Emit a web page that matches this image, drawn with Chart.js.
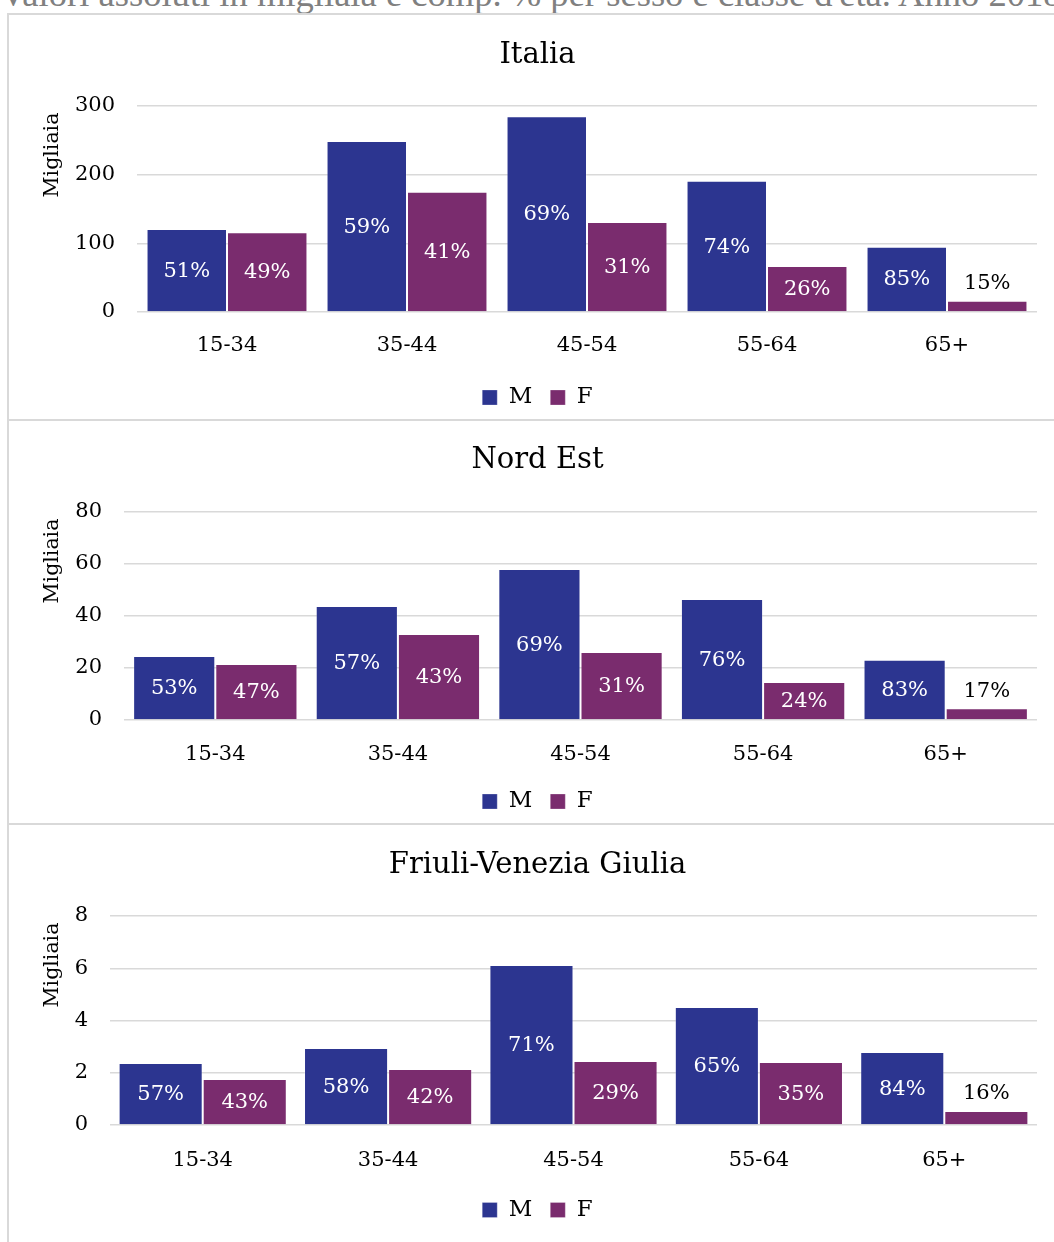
<!DOCTYPE html>
<html>
<head>
<meta charset="utf-8">
<script src="https://cdn.jsdelivr.net/npm/chart.js@4.4.1/dist/chart.umd.min.js"></script>
<style>
    html, body { margin: 0; padding: 0; background: #fff; }
    body { width: 1054px; height: 1242px; overflow: hidden; position: relative; }
    #head { position: absolute; left: 0; top: -15px; font-family: "Liberation Serif", serif; font-size: 30px; line-height: 30px; color: #808080; white-space: nowrap; }
    .frame { position: absolute; left: 7px; top: 13px; width: 1070px; height: 1260px; border-left: 2px solid #d9d9d9; border-top: 2px solid #d9d9d9; }
    .sep { position: absolute; left: 9px; width: 1045px; height: 2px; background: #d9d9d9; }
    .wrap { position: absolute; left: 9px; width: 1045px; }
</style>
</head>
<body>
<div id="head">Valori assoluti in migliaia e comp. % per sesso e classe d'età. Anno 2018</div>
<div class="frame"></div>
<div class="sep" style="top:419px"></div>
<div class="sep" style="top:823px"></div>
<div class="wrap" id="c1-wrap" style="top:15px;height:404px"><canvas id="c1"></canvas></div>
<div class="wrap" id="c2-wrap" style="top:421px;height:402px"><canvas id="c2"></canvas></div>
<div class="wrap" id="c3-wrap" style="top:825px;height:417px"><canvas id="c3"></canvas></div>
<script>
(function() {
    'use strict';

    // Data
    var ageGroups = ['15-34', '35-44', '45-54', '55-64', '65+'];
    var seriesNames = ['M', 'F'];
    var axisTitle = 'Migliaia';

    var italiaM = [121, 249, 285, 191, 95];
    var italiaF = [116, 175, 131, 67, 16.5];
    var italiaPctM = [51, 59, 69, 74, 85];
    var italiaPctF = [49, 41, 31, 26, 15];
    var italiaTicks = [0, 100, 200, 300];

    var nordEstM = [24.6, 43.8, 58.1, 46.5, 23.2];
    var nordEstF = [21.5, 33.1, 26.2, 14.6, 4.5];
    var nordEstPctM = [53, 57, 69, 76, 83];
    var nordEstPctF = [47, 43, 31, 24, 17];
    var nordEstTicks = [0, 20, 40, 60, 80];

    var fvgM = [2.37, 2.95, 6.12, 4.52, 2.79];
    var fvgF = [1.76, 2.14, 2.45, 2.41, 0.54];
    var fvgPctM = [57, 58, 71, 65, 84];
    var fvgPctF = [43, 42, 29, 35, 16];
    var fvgTicks = [0, 2, 4, 6, 8];

    var COLOR_M = '#2c3590';
    var COLOR_F = '#7a2c6e';
    var GRID = '#d9d9d9';
    var SERIF = '"DejaVu Serif", serif';

    Chart.defaults.font.family = SERIF;
    Chart.defaults.color = '#000';
    Chart.defaults.animation = false;

    // Percent labels: centred in white, or above in black when the bar is too short
    var barLabels = {
        id: 'barLabels',
        afterDatasetsDraw: function(chart, args, opts) {
            var ctx = chart.ctx;
            ctx.save();
            ctx.font = '21px ' + SERIF;
            ctx.textAlign = 'center';
            ctx.textBaseline = 'middle';
            for (var d = 0; d < chart.data.datasets.length; d++) {
                var meta = chart.getDatasetMeta(d);
                var pct = opts.pct[d];
                for (var i = 0; i < meta.data.length; i++) {
                    var bar = meta.data[i];
                    var txt = pct[i] + '%';
                    if (bar.base - bar.y < 28) {
                        ctx.fillStyle = '#000';
                        ctx.fillText(txt, bar.x, bar.y - 17);
                    } else {
                        ctx.fillStyle = '#fff';
                        ctx.fillText(txt, bar.x, (bar.y + bar.base) / 2 + 1);
                    }
                }
            }
            ctx.restore();
        }
    };

    // Rotated y axis title, placed the way the reference has it
    var yAxisTitle = {
        id: 'yAxisTitle',
        afterDraw: function(chart, args, opts) {
            var ctx = chart.ctx;
            ctx.save();
            ctx.translate(opts.x, chart.chartArea.top + opts.dy);
            ctx.rotate(-Math.PI / 2);
            ctx.font = '20.5px ' + SERIF;
            ctx.fillStyle = '#000';
            ctx.textAlign = 'center';
            ctx.textBaseline = 'middle';
            ctx.fillText(opts.text, 0, 0);
            ctx.restore();
        }
    };

    function buildPanel(canvasId, title, mVals, fVals, mPct, fPct, ticks, g) {
        var wrap = document.getElementById(canvasId + '-wrap');
        var rect = wrap.getBoundingClientRect();
        var canvas = document.getElementById(canvasId);
        canvas.width = Math.floor(rect.width);
        canvas.height = Math.floor(rect.height);
        canvas.style.display = 'block';

        return new Chart(canvas, {
            type: 'bar',
            data: {
                labels: ageGroups,
                datasets: [
                    { label: seriesNames[0], data: mVals, backgroundColor: COLOR_M, borderColor: 'rgba(255,255,255,0.25)', borderWidth: 1 },
                    { label: seriesNames[1], data: fVals, backgroundColor: COLOR_F, borderColor: 'rgba(255,255,255,0.25)', borderWidth: 1 }
                ]
            },
            options: {
                responsive: false,
                maintainAspectRatio: false,
                animation: false,
                categoryPercentage: g.cat,
                barPercentage: 1,
                layout: { padding: { left: 29, right: 17, top: 0, bottom: g.padBottom } },
                plugins: {
                    title: {
                        display: true,
                        text: title,
                        color: '#000',
                        font: { size: 29, weight: 'normal' },
                        padding: { top: g.titleTop, bottom: g.titleBottom }
                    },
                    legend: {
                        display: true,
                        position: 'bottom',
                        labels: {
                            boxWidth: 15,
                            boxHeight: 15,
                            padding: 18,
                            color: '#000',
                            font: { size: 23 }
                        }
                    },
                    tooltip: { enabled: false },
                    barLabels: { pct: [mPct, fPct] },
                    yAxisTitle: { text: axisTitle, x: 44, dy: 49 }
                },
                scales: {
                    x: {
                        grid: { display: false },
                        border: { display: false },
                        ticks: { color: '#000', font: { size: 21 }, padding: g.tickPad, maxRotation: 0 },
                        afterFit: function(scale) { scale.height = g.xHeight; }
                    },
                    y: {
                        min: ticks[0],
                        max: ticks[ticks.length - 1],
                        afterBuildTicks: function(scale) {
                            scale.ticks = ticks.map(function(v) { return { value: v }; });
                        },
                        grid: { color: GRID, lineWidth: 1.5, drawTicks: false },
                        border: { display: false },
                        ticks: { color: '#000', font: { size: 21 }, padding: 22 },
                        afterFit: function(scale) { scale.width = g.yWidth; }
                    }
                }
            },
            plugins: [barLabels, yAxisTitle]
        });
    }

    buildPanel('c1', 'Italia', italiaM, italiaF, italiaPctM, italiaPctF, italiaTicks,
        { cat: 0.894, yWidth: 99, titleTop: 22.6, titleBottom: 33.6, tickPad: 13, xHeight: 56, padBottom: 0 });
    buildPanel('c2', 'Nord Est', nordEstM, nordEstF, nordEstPctM, nordEstPctF, nordEstTicks,
        { cat: 0.9, yWidth: 86, titleTop: 21.6, titleBottom: 34.6, tickPad: 14, xHeight: 52, padBottom: 0 });
    buildPanel('c3', 'Friuli-Venezia Giulia', fvgM, fvgF, fvgPctM, fvgPctF, fvgTicks,
        { cat: 0.907, yWidth: 72, titleTop: 22.6, titleBottom: 33.6, tickPad: 15, xHeight: 55.5, padBottom: 10.5 });

    // Fit the cut-off heading across the page width
    var head = document.getElementById('head');
    var mctx = document.createElement('canvas').getContext('2d');
    mctx.font = '30px "Liberation Serif"';
    var w = mctx.measureText(head.textContent).width;
    var size = 30 * 1064 / w;
    head.style.fontSize = size + 'px';
    head.style.lineHeight = size + 'px';
    head.style.top = (6.5 - 0.8375 * size) + 'px';
})();
</script>
</body>
</html>
